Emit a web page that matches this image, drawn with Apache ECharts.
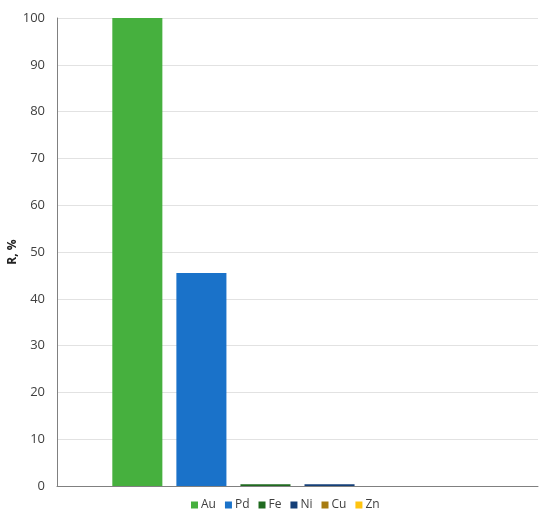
<!DOCTYPE html>
<html>
<head>
<meta charset="utf-8">
<script src="https://cdn.jsdelivr.net/npm/echarts@6/dist/echarts.min.js"></script>
<style>
  html, body { margin: 0; padding: 0; background: #fff; }
  #chart { width: 550px; height: 520px; }
</style>
</head>
<body>
<div id="chart"></div>
<script>
const categories = [""];
const metals = ["Au", "Pd", "Fe", "Ni", "Cu", "Zn"];
const values = [100, 45.5, 0.4, 0.4, 0, 0];
const colors = ["#46b03e", "#1a72c9", "#1f6a1f", "#143f78", "#a67b10", "#ffc410"];
const yTicks = { min: 0, max: 100, interval: 10 };

const chart = echarts.init(document.getElementById("chart"));

const series = metals.map((name, i) => {
  return {
    name: name,
    type: "bar",
    data: [values[i]],
    barGap: "28%",
    barCategoryGap: "23%",
    itemStyle: { color: colors[i] },
  };
});

const option = {
  animation: false,
  textStyle: { fontFamily: "Open Sans, DejaVu Sans, sans-serif" },
  grid: { left: 57, right: 12, top: 18, bottom: 34, outerBoundsMode: "none" },
  legend: {
    bottom: 4,
    left: 186,
    icon: "rect",
    itemWidth: 7,
    itemHeight: 7,
    itemGap: 9,
    itemStyle: { borderWidth: 0 },
    textStyle: { color: "#404040", fontSize: 12, padding: [0, 0, 0, -2] },
    data: metals,
  },
  xAxis: {
    type: "category",
    data: categories,
    axisLine: { lineStyle: { color: "#808080" } },
    axisTick: { show: false },
    axisLabel: { show: false },
  },
  yAxis: {
    type: "value",
    min: yTicks.min,
    max: yTicks.max,
    interval: yTicks.interval,
    name: "R, %",
    nameLocation: "middle",
    nameGap: 38,
    nameMoveOverlap: false,
    nameTextStyle: { color: "#222", fontSize: 12, fontWeight: "bold" },
    axisLine: { show: true, lineStyle: { color: "#808080" } },
    axisTick: { show: false },
    axisLabel: { color: "#404040", fontSize: 13, margin: 12 },
    splitLine: { lineStyle: { color: "#e2e2e2" } },
  },
  series: series,
};

chart.setOption(option);
</script>
</body>
</html>
